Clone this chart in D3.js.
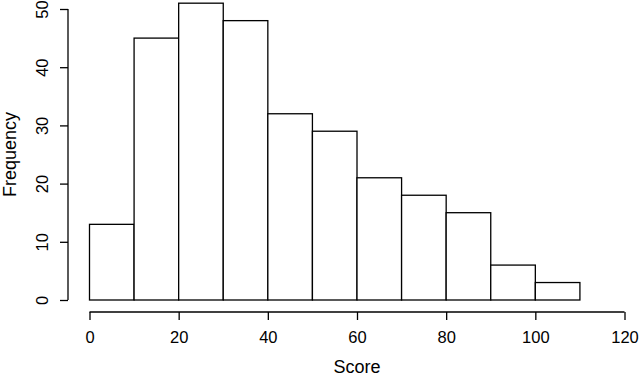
<!DOCTYPE html>
<html>
<head>
<meta charset="utf-8">
<script src="https://cdn.jsdelivr.net/npm/d3@7"></script>
<style>
  body { margin: 0; background: #fff; }
  text { font-family: "Liberation Sans", Arial, sans-serif; fill: #000; }
</style>
</head>
<body>
<svg class="chart" width="640" height="375"></svg>
<script>
// histogram bins (left edges) and counts
var binStarts = [0, 10, 20, 30, 40, 50, 60, 70, 80, 90, 100];
var binWidth = 10;
var counts = [13, 45, 51, 48, 32, 29, 21, 18, 15, 6, 3];
var xTicks = [0, 20, 40, 60, 80, 100, 120];
var yTicks = [0, 10, 20, 30, 40, 50];

var svg = d3.select('.chart');

var x = d3.scaleLinear().domain([0, 120]).range([89.5, 624.5]);
var y = d3.scaleLinear().domain([0, 50]).range([300, 9]);

// bars
svg.selectAll('rect.bar')
  .data(counts)
  .enter()
  .append('rect')
  .attr('class', 'bar')
  .attr('x', function(d, i) { return x(binStarts[i]); })
  .attr('y', function(d) { return y(d); })
  .attr('width', function(d, i) { return x(binStarts[i] + binWidth) - x(binStarts[i]); })
  .attr('height', function(d) { return y(0) - y(d); })
  .attr('fill', '#fff')
  .attr('stroke', '#000')
  .attr('stroke-width', 1.3);

// x axis
var xAxis = svg.append('g')
  .attr('transform', 'translate(0,312)')
  .call(d3.axisBottom(x).tickValues(xTicks).tickSize(8).tickPadding(8).tickFormat(d3.format('d')));

// y axis
var yAxis = svg.append('g')
  .attr('transform', 'translate(68,0)')
  .call(d3.axisLeft(y).tickValues(yTicks).tickSize(8).tickFormat(d3.format('d')));

[xAxis, yAxis].forEach(function(g) {
  g.select('.domain').attr('stroke', '#000').attr('stroke-width', 1.3);
  g.selectAll('.tick line').attr('stroke', '#000').attr('stroke-width', 1.3);
  g.selectAll('text').attr('font-family', '"Liberation Sans", Arial, sans-serif').attr('font-size', 16.5).attr('fill', '#000');
});
// remove outer tick ends that d3 draws on the domain path
xAxis.select('.domain').attr('d', 'M' + x(0) + ',0H' + x(120));
yAxis.select('.domain').attr('d', 'M0,' + y(0) + 'V' + y(50));

xAxis.selectAll('.tick text').attr('y', 0).attr('dy', 0).attr('transform', 'translate(0,31)');

// rotated y tick labels like base R
yAxis.selectAll('.tick text')
  .attr('x', 0)
  .attr('dy', 0)
  .attr('text-anchor', 'middle')
  .attr('transform', 'translate(-20,0) rotate(-90)');

// axis titles
svg.append('text')
  .attr('x', x(60))
  .attr('y', 373)
  .attr('text-anchor', 'middle')
  .attr('font-size', 18)
  .text('Score');

svg.append('text')
  .attr('transform', 'translate(16,' + y(25) + ') rotate(-90)')
  .attr('text-anchor', 'middle')
  .attr('font-size', 18)
  .text('Frequency');
</script>
</body>
</html>
